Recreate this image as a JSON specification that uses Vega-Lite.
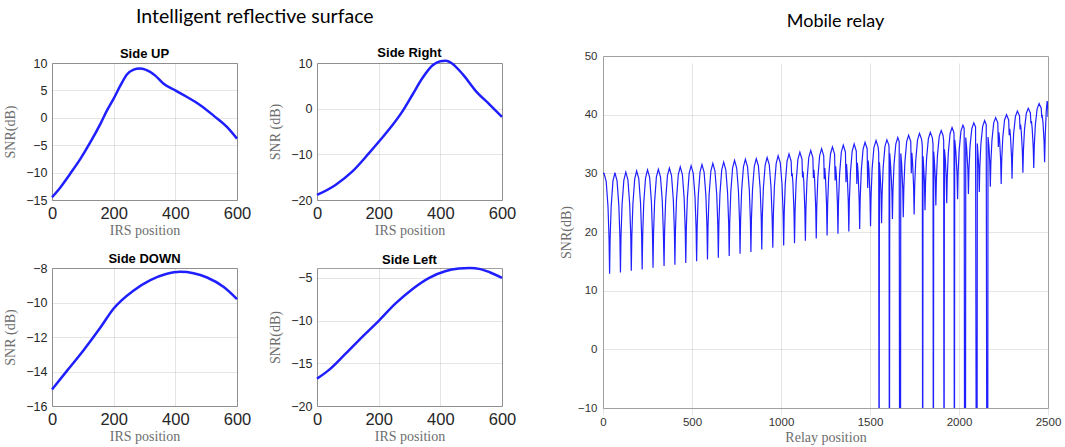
{
  "$schema": "https://vega.github.io/schema/vega-lite/v6.json",
  "background": "white",
  "padding": {"left": 3, "top": 6, "right": 3, "bottom": 3},
  "datasets": {
    "irs": [
      {"side": "Side UP", "pos": 0, "snr": -14.5},
      {"side": "Side UP", "pos": 27, "snr": -12.7},
      {"side": "Side UP", "pos": 59, "snr": -10.2},
      {"side": "Side UP", "pos": 92, "snr": -7.5},
      {"side": "Side UP", "pos": 124, "snr": -4.5},
      {"side": "Side UP", "pos": 157, "snr": -1.1},
      {"side": "Side UP", "pos": 178, "snr": 1.3},
      {"side": "Side UP", "pos": 200, "snr": 3.5},
      {"side": "Side UP", "pos": 222, "snr": 5.9},
      {"side": "Side UP", "pos": 243, "snr": 7.9},
      {"side": "Side UP", "pos": 265, "snr": 8.8},
      {"side": "Side UP", "pos": 284, "snr": 9.0},
      {"side": "Side UP", "pos": 303, "snr": 8.8},
      {"side": "Side UP", "pos": 335, "snr": 7.7},
      {"side": "Side UP", "pos": 362, "snr": 6.2},
      {"side": "Side UP", "pos": 400, "snr": 5.0},
      {"side": "Side UP", "pos": 438, "snr": 3.8},
      {"side": "Side UP", "pos": 481, "snr": 2.3},
      {"side": "Side UP", "pos": 524, "snr": 0.4},
      {"side": "Side UP", "pos": 568, "snr": -1.7},
      {"side": "Side UP", "pos": 600, "snr": -3.8},
      {"side": "Side Right", "pos": 0, "snr": -18.9},
      {"side": "Side Right", "pos": 60, "snr": -16.7},
      {"side": "Side Right", "pos": 114, "snr": -13.8},
      {"side": "Side Right", "pos": 168, "snr": -9.8},
      {"side": "Side Right", "pos": 201, "snr": -7.2},
      {"side": "Side Right", "pos": 245, "snr": -3.6},
      {"side": "Side Right", "pos": 277, "snr": -0.6},
      {"side": "Side Right", "pos": 310, "snr": 3.1},
      {"side": "Side Right", "pos": 342, "snr": 6.7},
      {"side": "Side Right", "pos": 375, "snr": 9.5},
      {"side": "Side Right", "pos": 400, "snr": 10.4},
      {"side": "Side Right", "pos": 418, "snr": 10.5},
      {"side": "Side Right", "pos": 440, "snr": 9.8},
      {"side": "Side Right", "pos": 473, "snr": 7.5},
      {"side": "Side Right", "pos": 516, "snr": 3.8},
      {"side": "Side Right", "pos": 560, "snr": 0.9},
      {"side": "Side Right", "pos": 600, "snr": -1.8},
      {"side": "Side DOWN", "pos": 0, "snr": -15.04},
      {"side": "Side DOWN", "pos": 49, "snr": -13.95},
      {"side": "Side DOWN", "pos": 103, "snr": -12.75},
      {"side": "Side DOWN", "pos": 157, "snr": -11.45},
      {"side": "Side DOWN", "pos": 200, "snr": -10.35},
      {"side": "Side DOWN", "pos": 265, "snr": -9.3},
      {"side": "Side DOWN", "pos": 319, "snr": -8.7},
      {"side": "Side DOWN", "pos": 370, "snr": -8.35},
      {"side": "Side DOWN", "pos": 416, "snr": -8.22},
      {"side": "Side DOWN", "pos": 459, "snr": -8.3},
      {"side": "Side DOWN", "pos": 503, "snr": -8.55},
      {"side": "Side DOWN", "pos": 557, "snr": -9.1},
      {"side": "Side DOWN", "pos": 600, "snr": -9.8},
      {"side": "Side Left", "pos": 0, "snr": -16.8},
      {"side": "Side Left", "pos": 38, "snr": -15.8},
      {"side": "Side Left", "pos": 92, "snr": -13.9},
      {"side": "Side Left", "pos": 147, "snr": -11.9},
      {"side": "Side Left", "pos": 201, "snr": -10.0},
      {"side": "Side Left", "pos": 255, "snr": -8.0},
      {"side": "Side Left", "pos": 310, "snr": -6.3},
      {"side": "Side Left", "pos": 364, "snr": -5.0},
      {"side": "Side Left", "pos": 418, "snr": -4.2},
      {"side": "Side Left", "pos": 460, "snr": -3.92},
      {"side": "Side Left", "pos": 495, "snr": -3.85},
      {"side": "Side Left", "pos": 530, "snr": -3.98},
      {"side": "Side Left", "pos": 560, "snr": -4.35},
      {"side": "Side Left", "pos": 600, "snr": -5.0}
    ],
    "relay": [
      {"pos": 0, "snr": 30.0}, {"pos": 6, "snr": 30.0}, {"pos": 18, "snr": 28.6}, {"pos": 28, "snr": 24.4}, {"pos": 34, "snr": 18.9},
      {"pos": 37, "snr": 12.9},
      {"pos": 40, "snr": 18.9}, {"pos": 46, "snr": 24.4}, {"pos": 56, "snr": 28.7}, {"pos": 67, "snr": 30.1}, {"pos": 79, "snr": 28.7}, {"pos": 89, "snr": 24.5}, {"pos": 95, "snr": 19.1},
      {"pos": 98, "snr": 13.1},
      {"pos": 101, "snr": 19.1}, {"pos": 107, "snr": 24.6}, {"pos": 117, "snr": 28.8}, {"pos": 128, "snr": 30.2}, {"pos": 140, "snr": 28.9}, {"pos": 150, "snr": 24.7}, {"pos": 156, "snr": 19.3},
      {"pos": 159, "snr": 13.4},
      {"pos": 162, "snr": 19.3}, {"pos": 168, "snr": 24.8}, {"pos": 178, "snr": 29.0}, {"pos": 189, "snr": 30.4}, {"pos": 201, "snr": 29.1}, {"pos": 211, "snr": 24.9}, {"pos": 217, "snr": 19.5},
      {"pos": 220, "snr": 13.6},
      {"pos": 223, "snr": 19.5}, {"pos": 229, "snr": 25.0}, {"pos": 239, "snr": 29.2}, {"pos": 250, "snr": 30.6}, {"pos": 262, "snr": 29.3}, {"pos": 272, "snr": 25.1}, {"pos": 278, "snr": 19.7},
      {"pos": 281, "snr": 13.9},
      {"pos": 284, "snr": 19.8}, {"pos": 290, "snr": 25.2}, {"pos": 300, "snr": 29.4}, {"pos": 311, "snr": 30.7}, {"pos": 323, "snr": 29.4}, {"pos": 333, "snr": 25.3}, {"pos": 339, "snr": 20.0},
      {"pos": 343, "snr": 14.2},
      {"pos": 346, "snr": 20.0}, {"pos": 352, "snr": 25.4}, {"pos": 362, "snr": 29.6}, {"pos": 373, "snr": 30.9}, {"pos": 385, "snr": 29.6}, {"pos": 395, "snr": 25.5}, {"pos": 401, "snr": 20.2},
      {"pos": 404, "snr": 14.4},
      {"pos": 407, "snr": 20.2}, {"pos": 413, "snr": 25.6}, {"pos": 423, "snr": 29.8}, {"pos": 434, "snr": 31.1}, {"pos": 446, "snr": 29.8}, {"pos": 456, "snr": 25.7}, {"pos": 462, "snr": 20.4},
      {"pos": 465, "snr": 14.7},
      {"pos": 468, "snr": 20.5}, {"pos": 474, "snr": 25.8}, {"pos": 484, "snr": 30.0}, {"pos": 495, "snr": 31.3}, {"pos": 507, "snr": 30.0}, {"pos": 517, "snr": 25.9}, {"pos": 523, "snr": 20.7},
      {"pos": 526, "snr": 15.0},
      {"pos": 529, "snr": 20.8}, {"pos": 535, "snr": 26.1}, {"pos": 545, "snr": 30.2}, {"pos": 556, "snr": 31.5}, {"pos": 568, "snr": 30.2}, {"pos": 578, "snr": 26.2}, {"pos": 584, "snr": 21.0},
      {"pos": 587, "snr": 15.3},
      {"pos": 590, "snr": 21.0}, {"pos": 596, "snr": 26.3}, {"pos": 606, "snr": 30.4}, {"pos": 617, "snr": 31.7}, {"pos": 629, "snr": 30.4}, {"pos": 639, "snr": 26.4}, {"pos": 645, "snr": 21.2},
      {"pos": 648, "snr": 15.6},
      {"pos": 651, "snr": 21.3}, {"pos": 657, "snr": 26.5}, {"pos": 667, "snr": 30.6}, {"pos": 678, "snr": 31.9}, {"pos": 690, "snr": 30.6}, {"pos": 700, "snr": 26.6}, {"pos": 706, "snr": 21.5},
      {"pos": 709, "snr": 15.9},
      {"pos": 712, "snr": 21.6}, {"pos": 718, "snr": 26.8}, {"pos": 728, "snr": 30.9}, {"pos": 739, "snr": 32.2}, {"pos": 751, "snr": 30.9}, {"pos": 761, "snr": 27.0}, {"pos": 767, "snr": 21.9},
      {"pos": 770, "snr": 16.3},
      {"pos": 773, "snr": 21.9}, {"pos": 779, "snr": 27.1}, {"pos": 789, "snr": 31.1}, {"pos": 800, "snr": 32.4}, {"pos": 812, "snr": 31.1}, {"pos": 822, "snr": 27.2}, {"pos": 828, "snr": 22.1},
      {"pos": 831, "snr": 16.6},
      {"pos": 834, "snr": 22.2}, {"pos": 840, "snr": 27.3}, {"pos": 850, "snr": 31.2}, {"pos": 861, "snr": 32.5}, {"pos": 873, "snr": 31.3}, {"pos": 883, "snr": 27.4}, {"pos": 889, "snr": 22.4},
      {"pos": 892, "snr": 17.0},
      {"pos": 895, "snr": 22.5}, {"pos": 901, "snr": 27.5}, {"pos": 911, "snr": 31.4}, {"pos": 922, "snr": 32.7}, {"pos": 934, "snr": 31.5}, {"pos": 944, "snr": 27.6}, {"pos": 950, "snr": 22.7},
      {"pos": 954, "snr": 17.3},
      {"pos": 957, "snr": 22.8}, {"pos": 963, "snr": 27.8}, {"pos": 973, "snr": 31.7}, {"pos": 984, "snr": 33.0}, {"pos": 996, "snr": 31.8}, {"pos": 1006, "snr": 28.0}, {"pos": 1012, "snr": 23.1},
      {"pos": 1015, "snr": 17.7},
      {"pos": 1018, "snr": 23.2}, {"pos": 1024, "snr": 28.2}, {"pos": 1034, "snr": 32.1}, {"pos": 1045, "snr": 33.3}, {"pos": 1057, "snr": 32.1}, {"pos": 1060, "snr": 29.5}, {"pos": 1063, "snr": 30.0}, {"pos": 1067, "snr": 28.3}, {"pos": 1073, "snr": 23.4},
      {"pos": 1076, "snr": 18.1},
      {"pos": 1079, "snr": 23.5}, {"pos": 1085, "snr": 28.5}, {"pos": 1095, "snr": 32.4}, {"pos": 1106, "snr": 33.6}, {"pos": 1118, "snr": 32.4}, {"pos": 1121, "snr": 29.3}, {"pos": 1124, "snr": 30.3}, {"pos": 1128, "snr": 28.6}, {"pos": 1134, "snr": 23.8},
      {"pos": 1137, "snr": 18.5},
      {"pos": 1140, "snr": 23.9}, {"pos": 1146, "snr": 28.8}, {"pos": 1156, "snr": 32.7}, {"pos": 1167, "snr": 33.9}, {"pos": 1179, "snr": 32.7}, {"pos": 1182, "snr": 29.2}, {"pos": 1185, "snr": 30.6}, {"pos": 1189, "snr": 28.9}, {"pos": 1195, "snr": 24.2},
      {"pos": 1198, "snr": 18.9},
      {"pos": 1201, "snr": 24.3}, {"pos": 1207, "snr": 29.2}, {"pos": 1217, "snr": 33.0}, {"pos": 1228, "snr": 34.2}, {"pos": 1240, "snr": 33.0}, {"pos": 1243, "snr": 29.0}, {"pos": 1246, "snr": 30.9}, {"pos": 1250, "snr": 29.3}, {"pos": 1256, "snr": 24.6},
      {"pos": 1259, "snr": 19.4},
      {"pos": 1262, "snr": 24.7}, {"pos": 1268, "snr": 29.5}, {"pos": 1278, "snr": 33.3}, {"pos": 1289, "snr": 34.5}, {"pos": 1301, "snr": 33.3}, {"pos": 1304, "snr": 28.8}, {"pos": 1307, "snr": 31.2}, {"pos": 1311, "snr": 29.6}, {"pos": 1317, "snr": 24.9},
      {"pos": 1320, "snr": 19.7},
      {"pos": 1323, "snr": 25.0}, {"pos": 1329, "snr": 29.8}, {"pos": 1339, "snr": 33.6}, {"pos": 1350, "snr": 34.8}, {"pos": 1362, "snr": 33.6}, {"pos": 1365, "snr": 28.5}, {"pos": 1368, "snr": 31.6}, {"pos": 1372, "snr": 29.9}, {"pos": 1378, "snr": 25.2},
      {"pos": 1381, "snr": 20.1},
      {"pos": 1384, "snr": 25.3}, {"pos": 1390, "snr": 30.1}, {"pos": 1400, "snr": 33.8}, {"pos": 1411, "snr": 35.0}, {"pos": 1423, "snr": 33.8}, {"pos": 1426, "snr": 28.2}, {"pos": 1429, "snr": 31.8}, {"pos": 1433, "snr": 30.2}, {"pos": 1439, "snr": 25.6},
      {"pos": 1442, "snr": 20.5},
      {"pos": 1445, "snr": 25.7}, {"pos": 1451, "snr": 30.4}, {"pos": 1461, "snr": 34.1}, {"pos": 1472, "snr": 35.3}, {"pos": 1484, "snr": 34.2}, {"pos": 1487, "snr": 27.5}, {"pos": 1490, "snr": 32.2}, {"pos": 1494, "snr": 30.6}, {"pos": 1500, "snr": 26.0},
      {"pos": 1503, "snr": 21.0},
      {"pos": 1506, "snr": 26.1}, {"pos": 1512, "snr": 30.8}, {"pos": 1522, "snr": 34.4}, {"pos": 1534, "snr": 35.6}, {"pos": 1545, "snr": 34.6}, {"pos": 1549, "snr": 33.5}, {"pos": 1551, "snr": -40}, {"pos": 1553, "snr": 31.9}, {"pos": 1558, "snr": 29.3}, {"pos": 1562, "snr": 26.4},
      {"pos": 1565, "snr": 21.5},
      {"pos": 1568, "snr": 26.5}, {"pos": 1574, "snr": 31.0}, {"pos": 1584, "snr": 34.6}, {"pos": 1595, "snr": 35.7}, {"pos": 1605, "snr": 34.9}, {"pos": 1607, "snr": 34.5}, {"pos": 1609, "snr": -40}, {"pos": 1611, "snr": 33.4}, {"pos": 1616, "snr": 31.2}, {"pos": 1620, "snr": 29.0}, {"pos": 1623, "snr": 26.9},
      {"pos": 1626, "snr": 22.2},
      {"pos": 1629, "snr": 27.1}, {"pos": 1635, "snr": 31.5}, {"pos": 1645, "snr": 35.0}, {"pos": 1656, "snr": 36.1}, {"pos": 1664, "snr": 35.4}, {"pos": 1667, "snr": -40}, {"pos": 1671, "snr": -40}, {"pos": 1673, "snr": 33.4}, {"pos": 1678, "snr": 31.6}, {"pos": 1684, "snr": 27.3},
      {"pos": 1687, "snr": 22.5},
      {"pos": 1690, "snr": 27.4}, {"pos": 1696, "snr": 31.9}, {"pos": 1706, "snr": 35.4}, {"pos": 1717, "snr": 36.5}, {"pos": 1729, "snr": 35.4}, {"pos": 1732, "snr": 30.0}, {"pos": 1735, "snr": 33.5}, {"pos": 1739, "snr": 32.0}, {"pos": 1745, "snr": 27.7},
      {"pos": 1748, "snr": 23.0},
      {"pos": 1751, "snr": 27.8}, {"pos": 1757, "snr": 32.2}, {"pos": 1767, "snr": 35.7}, {"pos": 1778, "snr": 36.8}, {"pos": 1790, "snr": 35.8}, {"pos": 1794, "snr": 34.6}, {"pos": 1796, "snr": -40}, {"pos": 1798, "snr": 32.9}, {"pos": 1803, "snr": 30.3}, {"pos": 1806, "snr": 28.3},
      {"pos": 1809, "snr": 23.7},
      {"pos": 1812, "snr": 28.4}, {"pos": 1818, "snr": 32.6}, {"pos": 1828, "snr": 35.9}, {"pos": 1839, "snr": 37.0}, {"pos": 1850, "snr": 36.1}, {"pos": 1854, "snr": 35.0}, {"pos": 1856, "snr": -40}, {"pos": 1858, "snr": 33.7}, {"pos": 1863, "snr": 31.4}, {"pos": 1867, "snr": 28.9},
      {"pos": 1870, "snr": 24.5},
      {"pos": 1873, "snr": 29.0}, {"pos": 1879, "snr": 33.1}, {"pos": 1889, "snr": 36.3}, {"pos": 1900, "snr": 37.3}, {"pos": 1910, "snr": 36.5}, {"pos": 1914, "snr": 35.6}, {"pos": 1916, "snr": -40}, {"pos": 1918, "snr": 34.1}, {"pos": 1923, "snr": 32.5}, {"pos": 1928, "snr": 29.2},
      {"pos": 1931, "snr": 24.9},
      {"pos": 1934, "snr": 29.4}, {"pos": 1940, "snr": 33.5}, {"pos": 1950, "snr": 36.8}, {"pos": 1961, "snr": 37.8}, {"pos": 1970, "snr": 37.1}, {"pos": 1972, "snr": 36.8}, {"pos": 1974, "snr": -40}, {"pos": 1976, "snr": 35.7}, {"pos": 1982, "snr": 33.8}, {"pos": 1989, "snr": 29.9},
      {"pos": 1992, "snr": 25.6},
      {"pos": 1995, "snr": 30.0}, {"pos": 2001, "snr": 34.0}, {"pos": 2011, "snr": 37.2}, {"pos": 2022, "snr": 38.2}, {"pos": 2029, "snr": 37.7}, {"pos": 2032, "snr": -40}, {"pos": 2036, "snr": -40}, {"pos": 2038, "snr": 36.1}, {"pos": 2043, "snr": 34.3}, {"pos": 2050, "snr": 30.6},
      {"pos": 2053, "snr": 26.5},
      {"pos": 2056, "snr": 30.7}, {"pos": 2062, "snr": 34.6}, {"pos": 2072, "snr": 37.6}, {"pos": 2083, "snr": 38.6}, {"pos": 2093, "snr": 37.9}, {"pos": 2098, "snr": -40}, {"pos": 2101, "snr": -40}, {"pos": 2103, "snr": 35.1}, {"pos": 2108, "snr": 32.7}, {"pos": 2111, "snr": 30.9},
      {"pos": 2114, "snr": 26.8},
      {"pos": 2117, "snr": 31.1}, {"pos": 2123, "snr": 35.0}, {"pos": 2133, "snr": 38.0}, {"pos": 2144, "snr": 39.0}, {"pos": 2153, "snr": 38.3}, {"pos": 2157, "snr": -40}, {"pos": 2161, "snr": -40}, {"pos": 2163, "snr": 36.2}, {"pos": 2168, "snr": 34.7}, {"pos": 2173, "snr": 31.7},
      {"pos": 2176, "snr": 27.7},
      {"pos": 2179, "snr": 31.8}, {"pos": 2185, "snr": 35.6}, {"pos": 2195, "snr": 38.6}, {"pos": 2206, "snr": 39.5}, {"pos": 2218, "snr": 38.6}, {"pos": 2221, "snr": 34.5}, {"pos": 2224, "snr": 37.0}, {"pos": 2228, "snr": 35.8}, {"pos": 2234, "snr": 32.2},
      {"pos": 2237, "snr": 28.2},
      {"pos": 2240, "snr": 32.3}, {"pos": 2246, "snr": 36.1}, {"pos": 2256, "snr": 39.1}, {"pos": 2267, "snr": 40.0}, {"pos": 2279, "snr": 39.1}, {"pos": 2282, "snr": 36.5}, {"pos": 2285, "snr": 37.6}, {"pos": 2289, "snr": 36.4}, {"pos": 2295, "snr": 32.9},
      {"pos": 2298, "snr": 29.1},
      {"pos": 2301, "snr": 33.1}, {"pos": 2307, "snr": 36.8}, {"pos": 2317, "snr": 39.7}, {"pos": 2328, "snr": 40.6}, {"pos": 2340, "snr": 39.8}, {"pos": 2343, "snr": 37.5}, {"pos": 2346, "snr": 38.3}, {"pos": 2350, "snr": 37.1}, {"pos": 2356, "snr": 33.8},
      {"pos": 2359, "snr": 30.1},
      {"pos": 2362, "snr": 33.9}, {"pos": 2368, "snr": 37.5}, {"pos": 2378, "snr": 40.2}, {"pos": 2389, "snr": 41.1}, {"pos": 2401, "snr": 40.3}, {"pos": 2404, "snr": 38.5}, {"pos": 2407, "snr": 38.9}, {"pos": 2411, "snr": 37.7}, {"pos": 2417, "snr": 34.5},
      {"pos": 2420, "snr": 30.9},
      {"pos": 2423, "snr": 34.7}, {"pos": 2429, "snr": 38.3}, {"pos": 2439, "snr": 41.0}, {"pos": 2450, "snr": 41.9}, {"pos": 2462, "snr": 41.1}, {"pos": 2465, "snr": 39.5}, {"pos": 2468, "snr": 39.7}, {"pos": 2472, "snr": 38.6}, {"pos": 2478, "snr": 35.4},
      {"pos": 2481, "snr": 31.9},
      {"pos": 2484, "snr": 36.0}, {"pos": 2490, "snr": 40.5}, {"pos": 2495, "snr": 42.3}, {"pos": 2498, "snr": 42.0}, {"pos": 2500, "snr": 39.6}
    ]
  },
  "config": {
    "view": {"stroke": "#a0a0a0", "strokeWidth": 1},
    "axis": {
      "grid": true, "gridColor": "#000000", "gridOpacity": 0.1, "gridWidth": 1,
      "domain": false, "ticks": false,
      "labelFont": "Liberation Sans", "labelColor": "#262626", "labelFlush": false, "labelPadding": 5,
      "titleFont": "Liberation Serif", "titleFontWeight": "normal", "titleColor": "#6e6e6e", "titleFontSize": 14
    },
    "title": {"font": "Liberation Sans", "fontWeight": "bold", "fontSize": 13, "color": "#000000", "offset": -4}
  },
  "spacing": 42,
  "columns": 2,
  "align": "none",
  "concat": [
    {
      "title": {"text": "Intelligent reflective surface", "font": "Lato", "fontWeight": "normal", "fontSize": 19.5, "offset": 23, "anchor": "middle", "dy": 4, "dx": -5},
      "columns": 2,
      "spacing": {"row": 14, "column": 16},
      "concat": [
        {
          "title": "Side UP",
          "width": 185, "height": 137,
          "data": {"name": "irs"},
          "transform": [{"filter": "datum.side === 'Side UP'"}],
          "mark": {"type": "line", "color": "#1f1fff", "strokeWidth": 2.5, "interpolate": "monotone"},
          "encoding": {
            "x": {"field": "pos", "type": "quantitative", "scale": {"domain": [0, 600], "nice": false}, "axis": {"values": [0, 200, 400, 600], "title": "IRS position", "labelFontSize": 16.5, "titlePadding": 2}},
            "y": {"field": "snr", "type": "quantitative", "scale": {"domain": [-15, 10], "nice": false, "zero": false}, "axis": {"values": [-15, -10, -5, 0, 5, 10], "title": "SNR(dB)", "labelFontSize": 12.5, "titlePadding": 8}}
          }
        },
        {
          "title": "Side Right",
          "width": 185, "height": 137,
          "data": {"name": "irs"},
          "transform": [{"filter": "datum.side === 'Side Right'"}],
          "mark": {"type": "line", "color": "#1f1fff", "strokeWidth": 2.5, "interpolate": "monotone"},
          "encoding": {
            "x": {"field": "pos", "type": "quantitative", "scale": {"domain": [0, 600], "nice": false}, "axis": {"values": [0, 200, 400, 600], "title": "IRS position", "labelFontSize": 16.5, "titlePadding": 2}},
            "y": {"field": "snr", "type": "quantitative", "scale": {"domain": [-20, 10], "nice": false, "zero": false}, "axis": {"values": [-20, -10, 0, 10], "title": "SNR (dB)", "labelFontSize": 12.5, "titlePadding": 8}}
          }
        },
        {
          "title": "Side DOWN",
          "width": 185, "height": 138,
          "data": {"name": "irs"},
          "transform": [{"filter": "datum.side === 'Side DOWN'"}],
          "mark": {"type": "line", "color": "#1f1fff", "strokeWidth": 2.5, "interpolate": "monotone"},
          "encoding": {
            "x": {"field": "pos", "type": "quantitative", "scale": {"domain": [0, 600], "nice": false}, "axis": {"values": [0, 200, 400, 600], "title": "IRS position", "labelFontSize": 16.5, "titlePadding": 2}},
            "y": {"field": "snr", "type": "quantitative", "scale": {"domain": [-16, -8], "nice": false, "zero": false}, "axis": {"values": [-16, -14, -12, -10, -8], "title": "SNR (dB)", "labelFontSize": 12.5, "titlePadding": 8}}
          }
        },
        {
          "title": "Side Left",
          "width": 185, "height": 138,
          "data": {"name": "irs"},
          "transform": [{"filter": "datum.side === 'Side Left'"}],
          "mark": {"type": "line", "color": "#1f1fff", "strokeWidth": 2.5, "interpolate": "monotone"},
          "encoding": {
            "x": {"field": "pos", "type": "quantitative", "scale": {"domain": [0, 600], "nice": false}, "axis": {"values": [0, 200, 400, 600], "title": "IRS position", "labelFontSize": 16.5, "titlePadding": 2}},
            "y": {"field": "snr", "type": "quantitative", "scale": {"domain": [-20, -3.85], "nice": false, "zero": false}, "axis": {"values": [-20, -15, -10, -5], "title": "SNR(dB)", "labelFontSize": 12.5, "titlePadding": 8}}
          }
        }
      ]
    },
    {
      "title": {"text": "Mobile relay", "font": "Lato", "fontWeight": "normal", "fontSize": 18, "offset": 19, "anchor": "middle", "frame": "group", "dx": 10},
      "width": 445, "height": 345,
      "view": {"stroke": null},
      "data": {"name": "relay"},
      "layer": [
        {
          "mark": {"type": "line", "color": "#2020ff", "strokeWidth": 1.2, "clip": true},
          "encoding": {
            "x": {"field": "pos", "type": "quantitative", "scale": {"domain": [0, 2500], "nice": false}, "axis": {"values": [0, 500, 1000, 1500, 2000, 2500], "format": "d", "title": "Relay position", "labelFontSize": 11.5, "labelPadding": 8, "labelColor": "#333333", "titlePadding": 3, "domain": true, "domainColor": "#a0a0a0"}},
            "y": {"field": "snr", "type": "quantitative", "scale": {"domain": [-10, 50], "nice": false, "zero": false, "range": [345, -7]}, "axis": {"values": [-10, 0, 10, 20, 30, 40, 50], "title": "SNR(dB)", "labelFontSize": 11.5, "labelPadding": 6, "labelColor": "#333333", "titlePadding": 4, "domain": true, "domainColor": "#a0a0a0"}}
          }
        },
        {
          "mark": {"type": "line", "opacity": 0},
          "encoding": {
            "x": {"field": "pos", "type": "quantitative", "axis": {"orient": "top", "labels": false, "grid": false, "title": null, "domain": true, "domainColor": "#a0a0a0", "offset": 7}},
            "y": {"field": "snr", "type": "quantitative", "axis": {"orient": "right", "labels": false, "grid": false, "title": null, "domain": true, "domainColor": "#a0a0a0"}}
          }
        }
      ],
      "resolve": {"axis": {"x": "independent", "y": "independent"}}
    }
  ]
}
